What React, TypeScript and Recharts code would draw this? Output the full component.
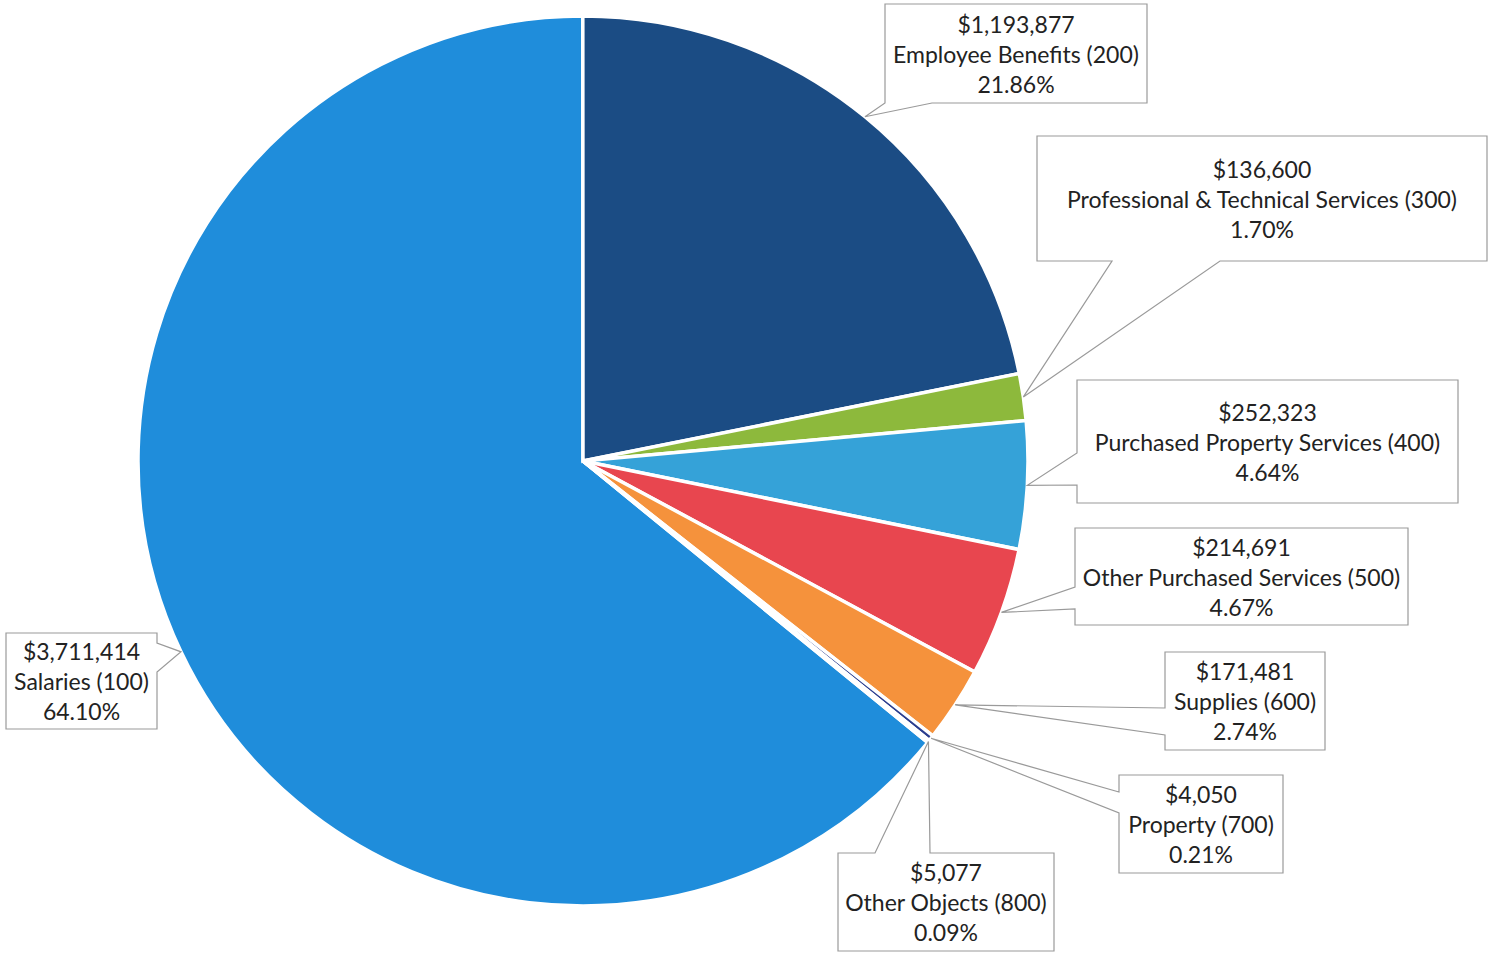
import { PieChart, Pie, Cell } from "recharts";

// values as printed on the callouts; slices are sized by the printed share
const categories = [
  "Salaries (100)",
  "Employee Benefits (200)",
  "Professional & Technical Services (300)",
  "Purchased Property Services (400)",
  "Other Purchased Services (500)",
  "Supplies (600)",
  "Property (700)",
  "Other Objects (800)",
];
const amounts = [3711414, 1193877, 136600, 252323, 214691, 171481, 4050, 5077];
const shares = [64.1, 21.86, 1.7, 4.64, 4.67, 2.74, 0.21, 0.09];

const COLORS = ["#1f8ddb", "#1b4c84", "#8db93c", "#35a2d8", "#e8464f", "#f5923c", "#2b3d8e", "#3a78c4"];

// callout boxes: x, y, w, h, side of the pointer and where its base sits on that side
const CALLOUTS = [
  { x: 6, y: 633, w: 151, h: 96, side: "right", b1: 643, b2: 672 },
  { x: 885, y: 4, w: 262, h: 99, side: "bottom", b1: 885, b2: 932 },
  { x: 1037, y: 136, w: 450, h: 125, side: "bottom", b1: 1112, b2: 1220 },
  { x: 1077, y: 380, w: 381, h: 123, side: "left", b1: 453, b2: 485 },
  { x: 1075, y: 528, w: 333, h: 97, side: "left", b1: 587, b2: 609 },
  { x: 1165, y: 652, w: 160, h: 98, side: "left", b1: 708, b2: 735 },
  { x: 1119, y: 775, w: 164, h: 98, side: "left", b1: 792, b2: 813 },
  { x: 838, y: 853, w: 216, h: 98, side: "top", b1: 875, b2: 930 },
];

const data = categories.map((name, i) => ({
  name,
  amount: amounts[i],
  share: shares[i],
}));

const RAD = Math.PI / 180;

function calloutPath(c: (typeof CALLOUTS)[number], ax: number, ay: number) {
  const x1 = c.x;
  const y1 = c.y;
  const x2 = c.x + c.w;
  const y2 = c.y + c.h;
  let pts: number[][];
  if (c.side === "top") {
    pts = [[x1, y1], [c.b1, y1], [ax, ay], [c.b2, y1], [x2, y1], [x2, y2], [x1, y2]];
  } else if (c.side === "right") {
    pts = [[x1, y1], [x2, y1], [x2, c.b1], [ax, ay], [x2, c.b2], [x2, y2], [x1, y2]];
  } else if (c.side === "bottom") {
    pts = [[x1, y1], [x2, y1], [x2, y2], [c.b2, y2], [ax, ay], [c.b1, y2], [x1, y2]];
  } else {
    pts = [[x1, y1], [x2, y1], [x2, y2], [x1, y2], [x1, c.b2], [ax, ay], [x1, c.b1]];
  }
  return "M" + pts.map((p) => p.join(",")).join("L") + "Z";
}

function renderCallout(props: any) {
  const { cx, cy, midAngle, outerRadius, index } = props;
  const c = CALLOUTS[index];
  const ax = cx + outerRadius * Math.cos(-midAngle * RAD);
  const ay = cy + outerRadius * Math.sin(-midAngle * RAD);
  const d = data[index];
  const tx = c.x + c.w / 2;
  const ty = c.y + c.h / 2;
  return (
    <g key={"callout-" + index}>
      <path d={calloutPath(c, ax, ay)} fill="#fff" stroke="#9a9a9a" strokeWidth={1.2} />
      <text
        x={tx}
        y={ty}
        textAnchor="middle"
        fill="#222"
        fontSize={23}
        fontFamily="Lato, 'Open Sans', sans-serif"
      >
        <tspan x={tx} dy={-30} dominantBaseline="central">
          {"$" + d.amount.toLocaleString("en-US")}
        </tspan>
        <tspan x={tx} dy={30} dominantBaseline="central">
          {d.name}
        </tspan>
        <tspan x={tx} dy={30} dominantBaseline="central">
          {d.share.toFixed(2) + "%"}
        </tspan>
      </text>
    </g>
  );
}

export default function App() {
  const firstSlice = 360 - shares[0] * 3.6;
  return (
    <div style={{ position: "absolute", left: 0, top: 0, width: 1489, height: 954, background: "#fff" }}>
      <PieChart width={1489} height={954} margin={{ top: 0, right: 0, bottom: 0, left: 0 }}>
        <Pie
          data={data}
          dataKey="share"
          nameKey="name"
          cx={583}
          cy={461}
          outerRadius={445}
          startAngle={90 - firstSlice}
          endAngle={90 - firstSlice - 360}
          stroke="#fff"
          strokeWidth={3.5}
          label={renderCallout}
          labelLine={false}
          isAnimationActive={false}
        >
          {data.map((d, i) => (
            <Cell key={d.name} fill={COLORS[i]} />
          ))}
        </Pie>
      </PieChart>
    </div>
  );
}
